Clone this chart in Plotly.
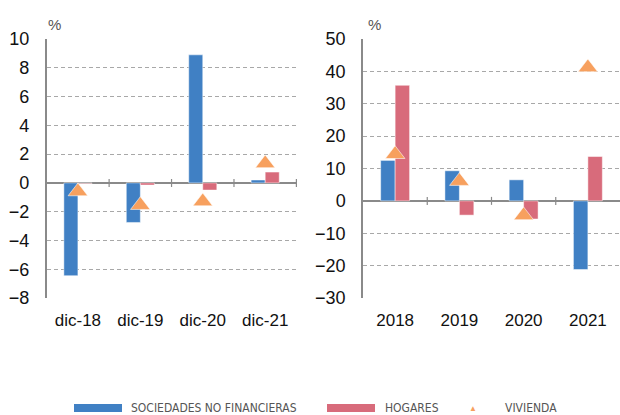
import plotly.graph_objects as go

# ---- data ----
cats_left = ["dic-18", "dic-19", "dic-20", "dic-21"]
snf_left = [-6.45, -2.75, 8.9, 0.2]
hog_left = [-0.05, -0.15, -0.5, 0.75]
viv_left = [-0.6, -1.55, -1.3, 1.35]

cats_right = ["2018", "2019", "2020", "2021"]
snf_right = [12.5, 9.3, 6.5, -21.2]
hog_right = [35.7, -4.4, -5.6, 13.7]
viv_right = [14.4, 6.1, -4.5, 41.2]

left_ticks = [10, 8, 6, 4, 2, 0, -2, -4, -6, -8]
right_ticks = [50, 40, 30, 20, 10, 0, -10, -20, -30]

legend_names = ["SOCIEDADES NO FINANCIERAS", "HOGARES", "VIVIENDA"]

BLUE = "#4080C4"
PINK = "#D86B7B"
ORANGE = "#F7A05E"
AXIS = "#8A8A8A"
GRID = "#A8A8A8"
YTICKFONT = dict(family="Liberation Sans, Arial, sans-serif", size=18, color="#111111")
XTICKFONT = dict(family="Liberation Sans, Arial, sans-serif", size=17, color="#111111")

W, H = 620, 415

fig = go.Figure()

def add_panel(cats, snf, hog, viv, xa, ya):
    fig.add_trace(go.Bar(x=cats, y=snf, name=legend_names[0], marker=dict(color=BLUE, line=dict(color="rgba(255,255,255,0.6)", width=0.8)),
                         xaxis=xa, yaxis=ya, showlegend=False))
    fig.add_trace(go.Bar(x=cats, y=hog, name=legend_names[1], marker=dict(color=PINK, line=dict(color="rgba(255,255,255,0.6)", width=0.8)),
                         xaxis=xa, yaxis=ya, showlegend=False))
    fig.add_trace(go.Scatter(x=cats, y=viv, name=legend_names[2], mode="markers",
                             marker=dict(symbol="triangle-up", size=17, color=ORANGE,
                                         line=dict(color="rgba(255,255,255,0.7)", width=0.8)),
                             xaxis=xa, yaxis=ya, showlegend=False))

add_panel(cats_left, snf_left, hog_left, viv_left, "x", "y")
add_panel(cats_right, snf_right, hog_right, viv_right, "x2", "y2")

ytop = 1 - 39 / H
ybot = 1 - 298 / H

common_y = dict(showgrid=True, gridcolor=GRID, griddash="4px,3px", gridwidth=1,
                zeroline=True, zerolinecolor=AXIS, zerolinewidth=1.5,
                showline=True, linecolor=AXIS, linewidth=1.5, automargin=False,
                ticks="", tickfont=YTICKFONT, ticklabelstandoff=12,
                domain=[ybot, ytop], tickmode="array")
common_x = dict(showgrid=False, zeroline=False, showline=False, ticks="", automargin=False,
                tickfont=XTICKFONT, ticklabelstandoff=10, type="category")

fig.update_layout(
    width=W, height=H,
    margin=dict(l=0, r=0, t=0, b=0, autoexpand=False),
    paper_bgcolor="white", plot_bgcolor="white",
    barmode="group", bargap=0.55, bargroupgap=0,
    xaxis=dict(domain=[46.7 / W, 297 / W], anchor="y", **common_x),
    yaxis=dict(range=[-8, 10], tickvals=left_ticks, anchor="x", **common_y),
    xaxis2=dict(domain=[363 / W, 1.0], anchor="y2", **common_x),
    yaxis2=dict(range=[-30, 50], tickvals=right_ticks, anchor="x2", **common_y),
    font=dict(family="Liberation Sans, Arial, sans-serif"),
)

# category boundary tick marks on the zero line
shapes = []
for xa, ya, n in (("x", "y", len(cats_left)), ("x2", "y2", len(cats_right))):
    for i in range(1, n + 1):
        if xa == "x2" and i == n:
            continue
        shapes.append(dict(type="line", xref=xa, yref=ya, x0=i - 0.5, x1=i - 0.5,
                           ysizemode="pixel", yanchor=0, y0=-4, y1=4,
                           line=dict(color=AXIS, width=1.2)))

# "%" unit labels
ann = [
    dict(text="%", xref="paper", yref="paper", x=46 / W, y=1 - 24 / H, xanchor="left", yanchor="middle",
         showarrow=False, font=dict(size=15, color="#555555")),
    dict(text="%", xref="paper", yref="paper", x=366 / W, y=1 - 24 / H, xanchor="left", yanchor="middle",
         showarrow=False, font=dict(size=15, color="#555555")),
]

# manual legend
LEGFONT = dict(family="Liberation Sans Narrow, Arial Narrow, DejaVu Sans Condensed, sans-serif", size=12, color="#555555")
ly = 1 - 408 / H
shapes.append(dict(type="line", xref="paper", yref="paper", x0=74 / W, x1=122 / W, y0=ly, y1=ly,
                   line=dict(color=BLUE, width=8)))
shapes.append(dict(type="line", xref="paper", yref="paper", x0=327 / W, x1=375 / W, y0=ly, y1=ly,
                   line=dict(color=PINK, width=8)))
ann.append(dict(text=legend_names[0], xref="paper", yref="paper", x=129 / W, y=ly, xanchor="left", yanchor="middle",
                showarrow=False, font=LEGFONT))
ann.append(dict(text=legend_names[1], xref="paper", yref="paper", x=383 / W, y=ly, xanchor="left", yanchor="middle",
                showarrow=False, font=LEGFONT))
ann.append(dict(text="▲", xref="paper", yref="paper", x=473 / W, y=ly, xanchor="center", yanchor="middle",
                showarrow=False, font=dict(size=8, color=ORANGE)))
ann.append(dict(text=legend_names[2], xref="paper", yref="paper", x=503 / W, y=ly, xanchor="left", yanchor="middle",
                showarrow=False, font=LEGFONT))

fig.update_layout(shapes=shapes, annotations=ann)

fig.write_html("out.html", config={"displayModeBar": False},
               post_script="document.body.style.margin='0';document.body.style.overflow='hidden';")
